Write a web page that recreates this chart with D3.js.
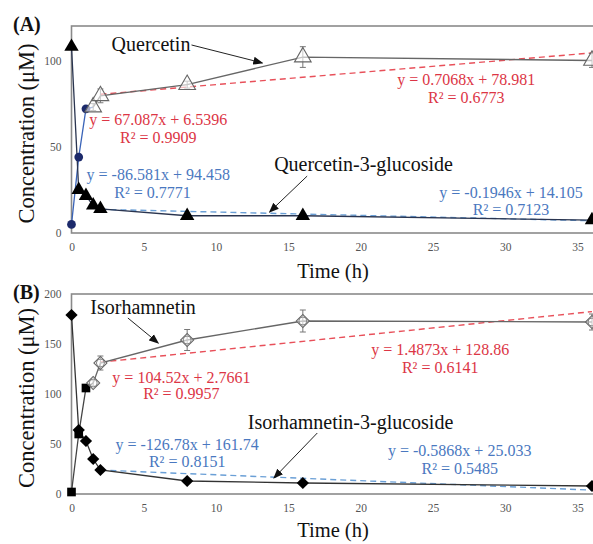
<!DOCTYPE html>
<html><head><meta charset="utf-8">
<script src="https://cdn.jsdelivr.net/npm/d3@7"></script>
<style>body{margin:0;background:#fff}svg{display:block}</style>
</head><body>
<svg id="c" width="593" height="544"></svg>
<script>
// ---------- data ----------
const xTicks = [0,5,10,15,20,25,30,35];
const yTicksA = [0,50,100];
const yTicksB = [0,50,100,150,200];

// Panel A
const quercetinEarly = [[0,5],[0.5,44],[1,72]];             // blue circles
const quercetin = [[1.5,73],[2,79.5],[8,86],[16,102],[36,100]]; // open triangles
const quercetinErr = [2,4,2,6,4];
const q3g = [[0,108],[0.5,25],[1,21.5],[1.5,16],[2,14],[8,10],[16,10],[36,7.5]];
const qTrendLate = [[2,80.4],[36,104.4]];
const q3gTrendLate = [[2,13.7],[36,7.1]];

// Panel B
const isoEarly = [[0,2],[0.5,60],[1,106]];                    // black squares
const iso = [[1.5,111],[2,131],[8,154],[16,173],[36,172]];     // open diamonds
const isoErr = [3,7,10.5,11,8];
const i3g = [[0,179],[0.5,64],[1,53],[1.5,35],[2,24],[8,13],[16,11],[36,8]];
const isoTrendLate = [[2,131.8],[36,182.4]];
const i3gTrendLate = [[2,23.9],[36,3.9]];

const eqA = [
  {t:"y = 67.087x + 6.5396", c:"red", x:6.0, y:62.6},
  {t:"R² = 0.9909", c:"red", x:6.0, y:52.0},
  {t:"y = 0.7068x + 78.981", c:"red", x:27.3, y:85.8},
  {t:"R² = 0.6773", c:"red", x:27.3, y:75.4},
  {t:"y = -86.581x + 94.458", c:"blue", x:6.0, y:30.7},
  {t:"R² = 0.7771", c:"blue", x:5.6, y:20.3},
  {t:"y = -0.1946x + 14.105", c:"blue", x:30.4, y:20.3},
  {t:"R² = 0.7123", c:"blue", x:30.4, y:10.4}
];
const eqB = [
  {t:"y = 104.52x + 2.7661", c:"red", x:7.6, y:111},
  {t:"R² = 0.9957", c:"red", x:7.6, y:95},
  {t:"y = 1.4873x + 128.86", c:"red", x:25.5, y:139},
  {t:"R² = 0.6141", c:"red", x:25.5, y:121},
  {t:"y = -126.78x + 161.74", c:"blue", x:8.0, y:44},
  {t:"R² = 0.8151", c:"blue", x:8.0, y:27},
  {t:"y = -0.5868x + 25.033", c:"blue", x:26.85, y:38},
  {t:"R² = 0.5485", c:"blue", x:26.85, y:20}
];
const labelsA = [
  {t:"Quercetin", x:5.5, y:105.5, ax:[8.3,109], bx:[13.2,98.6]},
  {t:"Quercetin-3-glucoside", x:20.2, y:35.9, ax:[16.3,33], bx:[13.7,12.2]}
];
const labelsB = [
  {t:"Isorhamnetin", x:4.95, y:180, ax:[3.9,176], bx:[6.0,151]},
  {t:"Isorhamnetin-3-glucoside", x:19.3, y:65, ax:[17.0,61], bx:[14.0,16]}
];

// ---------- drawing ----------
const svg = d3.select("#c");
svg.append("rect").attr("width",593).attr("height",544).attr("fill","#fff");
const SERIF = "'Liberation Serif','Times New Roman',serif";
const RED = "#dc3545", BLUE = "#4a78c0", RED_L = "#e8505a", BLUE_L = "#6a9fd6";
const colorOf = c => c==="red" ? RED : BLUE;

const defs = svg.append("defs");
defs.append("marker").attr("id","ah").attr("viewBox","0 0 10 10").attr("refX",9).attr("refY",5)
  .attr("markerWidth",10).attr("markerHeight",10).attr("markerUnits","userSpaceOnUse").attr("orient","auto")
  .append("path").attr("d","M0,1 L10,5 L0,9 Z").attr("fill","#111");

function panel(cfg){
  const x = d3.scaleLinear().domain([0,36]).range([71.5,592]);
  const y = d3.scaleLinear().domain([0,cfg.ymax]).range([cfg.bottom,cfg.top]);
  const g = svg.append("g");
  // frame
  g.append("rect").attr("x",x(0)).attr("y",cfg.top).attr("width",x(36)-x(0)+2).attr("height",cfg.bottom-cfg.top)
    .attr("fill","none").attr("stroke","#8a8a8a").attr("stroke-width",1.6);
  // axes
  const xa = g.append("g").attr("transform",`translate(0,${cfg.bottom})`)
    .call(d3.axisBottom(x).tickValues(xTicks).tickSize(0).tickPadding(10));
  const ya = g.append("g").attr("transform",`translate(${x(0)},0)`)
    .call(d3.axisLeft(y).tickValues(cfg.yTicks).tickSize(0).tickPadding(10));
  [xa,ya].forEach(a=>{
    a.select(".domain").remove();
    a.selectAll("text").attr("font-family",SERIF).attr("font-size",11.5).attr("fill","#555");
  });
  // titles
  g.append("text").attr("x",333).attr("y",cfg.bottom+cfg.tOff).attr("text-anchor","middle")
    .attr("font-family",SERIF).attr("font-size",20.5).attr("fill","#111").text("Time (h)");
  const cy = (cfg.top+cfg.bottom)/2 + 4;
  g.append("text").attr("transform",`translate(34,${cy}) rotate(-90)`).attr("text-anchor","middle")
    .attr("font-family",SERIF).attr("font-size",22.5).attr("fill","#111").text("Concentration (μM)");
  g.append("text").attr("x",13).attr("y",cfg.top+5).attr("font-family",SERIF).attr("font-weight","bold")
    .attr("font-size",20).attr("fill","#111").text(cfg.tag);

  const line = d3.line().x(d=>x(d[0])).y(d=>y(d[1]));
  // trendlines
  g.append("path").attr("d",line(cfg.trendUp)).attr("fill","none").attr("stroke",RED_L).attr("stroke-width",1.4).attr("stroke-dasharray","6,4");
  g.append("path").attr("d",line(cfg.trendDown)).attr("fill","none").attr("stroke",BLUE_L).attr("stroke-width",1.4).attr("stroke-dasharray","6,4");

  // series lines
  g.append("path").attr("d",line(cfg.early.concat([cfg.main[0]]))).attr("fill","none").attr("stroke",cfg.earlyLine).attr("stroke-width",1.3);
  g.append("path").attr("d",line(cfg.main)).attr("fill","none").attr("stroke","#666").attr("stroke-width",1.3);
  g.append("path").attr("d",line(cfg.gluc)).attr("fill","none").attr("stroke",cfg.glucLine).attr("stroke-width",1.3);

  // error bars
  cfg.main.forEach((d,i)=>{
    const e = cfg.err[i], xx = x(d[0]);
    g.append("line").attr("x1",xx).attr("x2",xx).attr("y1",y(d[1]+e)).attr("y2",y(d[1]-e)).attr("stroke","#777").attr("stroke-width",1);
    [d[1]+e,d[1]-e].forEach(v=>g.append("line").attr("x1",xx-3).attr("x2",xx+3).attr("y1",y(v)).attr("y2",y(v)).attr("stroke","#777").attr("stroke-width",1));
  });

  // markers
  const sym = (type,size)=>d3.symbol().type(type).size(size)();
  const rot = r => r ? ` rotate(45)` : ``;
  g.selectAll(null).data(cfg.early).join("path").attr("transform",d=>`translate(${x(d[0])},${y(d[1])})`)
    .attr("d",sym(cfg.earlySym,cfg.earlySize)).attr("fill",cfg.earlyFill);
  g.selectAll(null).data(cfg.gluc).join("path").attr("transform",d=>`translate(${x(d[0])},${y(d[1])})${rot(cfg.diamond)}`)
    .attr("d",sym(cfg.glucSym,cfg.glucSize)).attr("fill","#000");
  g.selectAll(null).data(cfg.main).join("path").attr("transform",d=>`translate(${x(d[0])},${y(d[1])})${rot(cfg.diamond)}`)
    .attr("d",sym(cfg.mainSym,cfg.mainSize)).attr("fill","rgba(255,255,255,0.6)").attr("stroke","#666").attr("stroke-width",1.1);
  if(cfg.diamond){
    g.selectAll(null).data(cfg.main).join("circle").attr("cx",d=>x(d[0])).attr("cy",d=>y(d[1])).attr("r",4)
      .attr("fill","none").attr("stroke","#777").attr("stroke-width",0.9);
  }

  // equations
  cfg.eq.forEach(e=>g.append("text").attr("x",x(e.x)).attr("y",y(e.y)).attr("text-anchor","middle")
    .attr("font-family",SERIF).attr("font-size",16).attr("fill",colorOf(e.c)).text(e.t));
  // labels + arrows
  cfg.labels.forEach(l=>{
    g.append("text").attr("x",x(l.x)).attr("y",y(l.y)).attr("text-anchor","middle")
      .attr("font-family",SERIF).attr("font-size",20).attr("fill","#111").text(l.t);
    g.append("line").attr("x1",x(l.ax[0])).attr("y1",y(l.ax[1])).attr("x2",x(l.bx[0])).attr("y2",y(l.bx[1]))
      .attr("stroke","#222").attr("stroke-width",1).attr("marker-end","url(#ah)");
  });
}

panel({tag:"(A)", top:26, bottom:233, ymax:120, yTicks:yTicksA, tOff:45, diamond:false,
  early:quercetinEarly, earlySym:d3.symbolCircle, earlySize:60, earlyFill:"#1c2a6b", earlyLine:"#3a64b8",
  main:quercetin, err:quercetinErr, mainSym:d3.symbolTriangle, mainSize:120,
  gluc:q3g, glucSym:d3.symbolTriangle, glucSize:90, glucLine:"#2a3550",
  trendUp:qTrendLate, trendDown:q3gTrendLate, eq:eqA, labels:labelsA});

panel({tag:"(B)", top:294, bottom:494, ymax:200, yTicks:yTicksB, tOff:43, diamond:true,
  early:isoEarly, earlySym:d3.symbolSquare, earlySize:75, earlyFill:"#000", earlyLine:"#444",
  main:iso, err:isoErr, mainSym:d3.symbolSquare, mainSize:85,
  gluc:i3g, glucSym:d3.symbolSquare, glucSize:75, glucLine:"#333",
  trendUp:isoTrendLate, trendDown:i3gTrendLate, eq:eqB, labels:labelsB});
</script>
</body></html>
